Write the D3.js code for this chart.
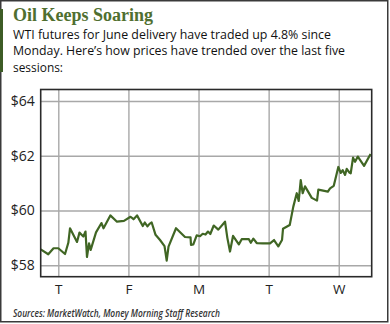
<!DOCTYPE html>
<html><head><meta charset="utf-8">
<script src="https://cdn.jsdelivr.net/npm/d3@7"></script>
<style>html,body{margin:0;padding:0;background:#fff;}svg{display:block;}</style>
</head><body>
<svg id="c" width="390" height="324"></svg>
<script>
const title = "Oil Keeps Soaring";
const subtitle = [
  "WTI futures for June delivery have traded up 4.8% since",
  "Monday. Here\u2019s how prices have trended over the last five",
  "sessions:"
];
const source = "Sources: MarketWatch, Money Morning Staff Research";
const dayLabels = ["T","F","M","T","W"];
const yTicks = [58,60,62,64];
// session position (0 = first session tick) and price in $
const sessionPos = [-0.251,-0.143,-0.068,0,0.096,0.143,0.167,0.267,0.302,0.357,0.388,0.409,0.438,0.462,0.538,0.616,0.645,0.742,0.837,0.937,1.030,1.073,1.123,1.205,1.234,1.272,1.301,1.332,1.387,1.451,1.515,1.546,1.572,1.679,1.807,1.886,1.893,1.926,1.974,2.021,2.060,2.100,2.135,2.168,2.217,2.282,2.378,2.411,2.449,2.492,2.575,2.616,2.718,2.746,2.782,2.830,2.920,3.020,3.077,3.138,3.191,3.205,3.301,3.352,3.401,3.429,3.458,3.486,3.519,3.615,3.690,3.709,3.845,3.876,3.929,3.994,4.029,4.057,4.090,4.114,4.150,4.171,4.204,4.233,4.272,4.361,4.454];
const price = [58.58,58.40,58.62,58.62,58.41,58.82,59.35,58.85,59.19,59.05,59.23,58.30,58.80,58.56,59.20,59.54,59.35,59.82,59.59,59.62,59.77,59.68,59.82,59.43,59.56,59.42,59.51,59.56,59.11,58.92,58.70,58.17,58.68,59.35,59.03,59.02,58.74,58.76,59.09,59.06,59.15,59.12,59.23,59.14,59.45,59.30,59.59,59.00,58.50,59.07,58.76,58.95,58.95,58.82,58.97,58.81,58.80,58.80,58.92,58.69,58.92,59.33,59.47,60.14,60.63,60.35,61.11,60.63,60.88,60.46,60.36,60.76,60.69,60.81,60.90,61.59,61.37,61.47,61.30,61.52,61.39,61.36,61.93,61.78,61.97,61.63,62.06];

const svg = d3.select("#c");
const plot = {l:40.7, r:371.7, t:89.5, b:276.7};

// outer frame
svg.append("rect").attr("x",0.75).attr("y",0.75).attr("width",387).attr("height",321)
  .attr("fill","none").attr("stroke","#3a3a3a").attr("stroke-width",1.5);
svg.append("rect").attr("x",0).attr("y",9).attr("width",3).attr("height",63).attr("fill","#3d5c26");

svg.append("text").attr("x",13).attr("y",20.5).text(title)
  .attr("font-family","'Liberation Serif',serif").attr("font-weight","bold")
  .attr("font-size",18).attr("fill","#4f6f30");

const subW = [318, 332, 50];
subtitle.forEach((s,i)=>{
  svg.append("text").attr("x",13).attr("y",38.5+i*16.5).text(s)
    .attr("font-family","'Open Sans',sans-serif").attr("font-size",13.5).attr("fill","#111")
    .attr("textLength",subW[i]).attr("lengthAdjust","spacingAndGlyphs");
});

const x = d3.scaleLinear().domain([-0.251,4.47]).range([plot.l,plot.r]);
const y = d3.scaleLinear().domain([57.58,64.42]).range([plot.b,plot.t]);

// horizontal grid
const gy = svg.append("g").attr("transform",`translate(${plot.l},0)`)
  .call(d3.axisLeft(y).tickValues(yTicks).tickSize(-(plot.r-plot.l)).tickPadding(6).tickFormat(d=>"$"+d));
gy.select(".domain").remove();
gy.selectAll(".tick line").attr("stroke","#a8a8a8").attr("stroke-width",1.4);
gy.selectAll(".tick text").attr("font-family","'Open Sans',sans-serif").attr("font-size",14).attr("fill","#222");

// vertical grid
const gx = svg.append("g").attr("transform",`translate(0,${plot.b})`)
  .call(d3.axisBottom(x).tickValues(d3.range(dayLabels.length)).tickSize(-(plot.b-plot.t)).tickPadding(8).tickFormat((d,i)=>dayLabels[i]));
gx.select(".domain").remove();
gx.selectAll(".tick line").attr("stroke","#a8a8a8").attr("stroke-width",1.4);
gx.selectAll(".tick text").attr("font-family","'Open Sans',sans-serif").attr("font-size",13.5).attr("fill","#222");

// line
const data = sessionPos.map((p,i)=>({p, v:price[i]}));
svg.append("path").datum(data)
  .attr("d", d3.line().x(d=>x(d.p)).y(d=>y(d.v)))
  .attr("fill","none").attr("stroke","#406624").attr("stroke-width",2.2).attr("stroke-linejoin","round");

// plot frame
svg.append("rect").attr("x",plot.l).attr("y",plot.t).attr("width",plot.r-plot.l).attr("height",plot.b-plot.t)
  .attr("fill","none").attr("stroke","#2a2a2a").attr("stroke-width",1.6);

svg.append("text").attr("x",13).attr("y",317).text(source)
  .attr("font-family","'Open Sans',sans-serif").attr("font-style","italic").attr("font-weight",600)
  .attr("font-size",10).attr("fill","#333").attr("textLength",207).attr("lengthAdjust","spacingAndGlyphs");
</script>
</body></html>
